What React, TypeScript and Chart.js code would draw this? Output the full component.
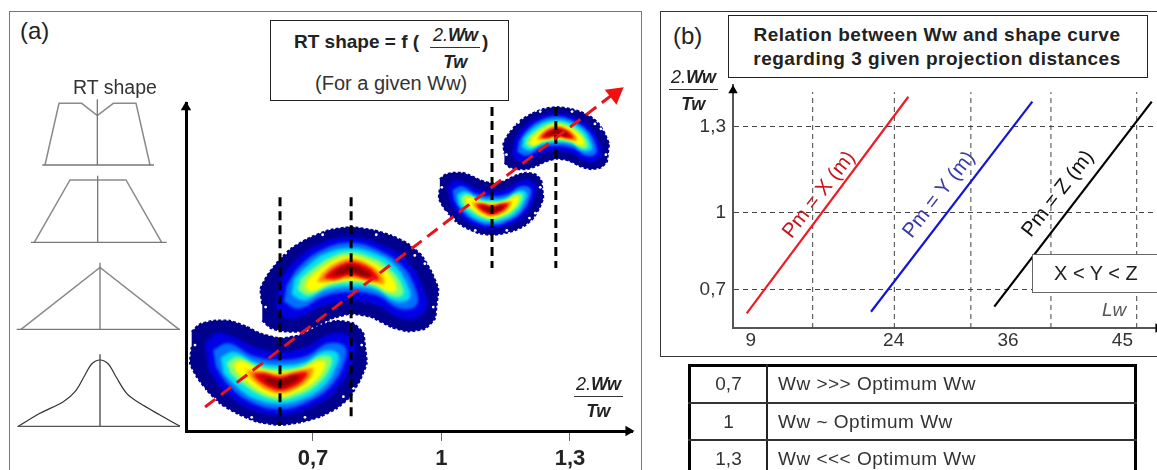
import React, { useEffect, useRef } from "react";
import { Chart, registerables } from "chart.js";

Chart.register(...registerables);

const FONT = '"Liberation Sans", Arial, sans-serif';

/* ---------- panel (a): axis ---------- */
const aTicks = [0.7, 1, 1.3];
const aTickLabels = ["0,7", "1", "1,3"];
const diagonalTrend = [
  { x: 0.448, y: 0.456 },
  { x: 1.398, y: 1.1845 },
];
const shapeMarkers = [
  { x: 0.623, top: 0.946, bottom: 0.414 },
  { x: 0.789, top: 0.946, bottom: 0.4257 },
  { x: 1.118, top: 1.1565, bottom: 0.7806 },
  { x: 1.267, top: 1.1565, bottom: 0.7806 },
];

/* ---------- panel (a): density contour levels of one RT footprint, as read from the big lower blob ---------- */
const levelOuter = [[35,395],[60,372],[100,362],[150,362],[200,380],[240,400],[300,415],[360,405],[420,375],[470,362],[520,370],[550,400],[555,440],[560,490],[540,540],[510,590],[470,625],[420,650],[370,665],[300,675],[230,665],[170,640],[120,610],[80,570],[50,530],[30,490],[35,440]];
const levelBlue = [[75,430],[110,400],[160,410],[220,440],[300,455],[380,440],[440,405],[490,400],[525,435],[515,490],[470,570],[400,618],[300,645],[200,622],[130,570],[85,510]];
const levelAzure = [[100,450],[145,430],[220,468],[300,480],[380,468],[445,430],[495,440],[492,490],[455,555],[390,602],[300,628],[210,605],[145,555],[108,500]];
const levelCyan = [[122,472],[162,455],[225,485],[300,495],[375,485],[432,452],[475,462],[462,515],[425,565],[370,597],[300,612],[225,597],[170,560],[130,520]];
const levelGreen = [[140,488],[172,470],[230,497],[300,507],[370,497],[420,468],[455,472],[445,515],[405,560],[360,585],[300,600],[240,585],[185,550],[150,520]];
const levelYellow = [[160,492],[185,482],[235,505],[300,515],[365,505],[410,482],[435,485],[425,520],[390,555],[345,578],[300,590],[250,578],[200,545],[170,520]];
const levelOrange = [[198,510],[232,512],[300,522],[365,510],[398,505],[392,530],[355,562],[300,580],[250,565],[212,535]];
const levelRed = [[218,522],[250,518],[300,530],[350,518],[382,518],[365,545],[335,563],[300,572],[262,560],[232,540]];
const levelDark = [[240,532],[270,532],[300,540],[335,528],[360,530],[340,548],[300,562],[268,552]];
const levelHoles = [[215,652],[375,652],[105,597],[490,590],[520,565],[70,565],[45,435],[545,435]];

const levels = [levelOuter, levelBlue, levelAzure, levelCyan, levelGreen, levelYellow, levelOrange, levelRed, levelDark];
const levelColors = ["#00008f", "#0000e6", "#0070ff", "#00e0f0", "#80ff70", "#ffff00", "#ff9000", "#f00000", "#8c0000"];

/* where each footprint sits on the plot: centre and half extents in axis units */
const blobs = [
  { cx: 0.789, cy: 0.757, hw: 0.2066, hh: 0.1214, flip: true, soft: 1.7 },
  { cx: 0.623, cy: 0.533, hw: 0.2055, hh: 0.1214, flip: false, soft: 1.7 },
  { cx: 1.27, cy: 1.0855, hw: 0.1226, hh: 0.0724, flip: true, soft: 1 },
  { cx: 1.118, cy: 0.9286, hw: 0.1214, hh: 0.0724, flip: false, soft: 1 },
];

/* ---------- RT shape sketches ---------- */
const shapeColor = "#8a8a8a";
const rtOutlines = [
  [[135,798],[177,983],[245,983],[292,946],[340,983],[408,983],[450,798]],
  [[103,566],[210,753],[378,753],[485,566]],
  [[63,305],[300,491],[537,305]],
];
const rtBellCurve = [[55,14],[120,53],[190,88],[225,118],[255,168],[275,201],[300,213],[325,201],[345,168],[380,113],[420,83],[480,48],[540,14]];
const rtBaselines = [[[127,798],[462,798]],[[93,566],[500,566]],[[50,305],[540,305]],[[52,14],[540,14]]];
const rtCentres = [[[292,798],[292,995]],[[293,566],[293,766]],[[300,305],[300,505]],[[300,14],[300,230]]];

/* ---------- panel (b) ---------- */
const bYTicks = [0.7, 0.983, 1.3];
const bYTickLabels = ["0,7", "1", "1,3"];
const bXTicks = [9, 24, 36, 48];
const bXTickLabels = ["9", "24", "36", "45"];
const bVerticalGuides = [15.5, 24.07, 32.1, 40.5, 49.5];
const lineX = [{ x: 8.58, y: 0.614 }, { x: 25.54, y: 1.41 }];
const lineY = [{ x: 21.62, y: 0.62 }, { x: 38.55, y: 1.392 }];
const lineZ = [{ x: 34.56, y: 0.639 }, { x: 51.08, y: 1.392 }];

const tableRows = [
  ["0,7", "Ww >>> Optimum Ww"],
  ["1", "Ww ~ Optimum Ww"],
  ["1,3", "Ww <<< Optimum Ww"],
];

const contourPlugin = {
  id: "contourPlugin",
  beforeDatasetDraw(chart: any, args: any) {
    const ds = chart.data.datasets[args.index];
    if (!ds.contourFill) return;
    const ctx = chart.ctx;
    ctx.save();
    if (ds.softness) ctx.filter = `blur(${ds.softness}px)`;
    ctx.fillStyle = ds.contourFill;
    ctx.beginPath();
    args.meta.dataset.path(ctx);
    ctx.closePath();
    ctx.fill();
    ctx.restore();
  },
};

const place = (b: any, p: number[]) => ({
  x: b.cx + ((p[0] - 300) / 264) * b.hw,
  y: b.cy + (((522 - p[1]) / 156) * b.hh) * (b.flip ? -1 : 1),
});

const asXY = (pts: number[][]) => pts.map((p) => ({ x: p[0], y: p[1] }));
const base = { pointRadius: 0, showLine: true, clip: false as any };
const noOverflow = (s: any) => {
  s.paddingTop = 0;
  s.paddingBottom = 0;
  s.paddingLeft = 0;
  s.paddingRight = 0;
};

function buildChartA(canvas: HTMLCanvasElement) {
  const datasets: any[] = [];
  blobs.forEach((b, i) => {
    levels.forEach((lv, j) => {
      datasets.push({
        ...base,
        data: lv.map((p) => place(b, p)),
        contourFill: levelColors[j],
        softness: j === 0 ? 0 : b.soft,
        tension: j === 0 ? 0.15 : 0.4,
        borderWidth: j === 0 ? 2 : 0,
        borderColor: levelColors[0],
        borderDash: [3, 2],
        order: 1000 - i * 20 - j,
      });
    });
    datasets.push({
      data: levelHoles.map((p) => place(b, p)),
      showLine: false,
      pointRadius: 1.4,
      pointBorderWidth: 0,
      pointBackgroundColor: "#fff",
      clip: false,
      order: 1000 - i * 20 - 10,
    });
  });
  shapeMarkers.forEach((m) =>
    datasets.push({
      ...base,
      data: [{ x: m.x, y: m.top }, { x: m.x, y: m.bottom }],
      borderColor: "#000",
      borderWidth: 3,
      borderDash: [9, 5],
      order: 3,
    })
  );
  datasets.push({
    ...base,
    data: diagonalTrend,
    borderColor: "#e8141c",
    borderWidth: 3,
    borderDash: [13, 7],
    order: 2,
  });
  const arrow = (x: number, y: number, rot: number, r: number, c: string) => ({
    data: [{ x, y }],
    showLine: false,
    pointStyle: "triangle",
    pointRotation: rot,
    pointRadius: r,
    pointBorderWidth: 0,
    pointBackgroundColor: c,
    clip: false,
    order: 1,
  });
  datasets.push(arrow(1.405, 1.187, 52, 11, "#f01010"));
  datasets.push(arrow(0.4035, 1.156, 0, 6, "#000"));
  datasets.push(arrow(1.4365, 0.4, 90, 6, "#000"));

  return new Chart(canvas, {
    type: "scatter",
    data: { datasets },
    plugins: [contourPlugin as any],
    options: {
      responsive: false,
      animation: false,
      layout: { autoPadding: false, padding: { left: 6, right: 8, top: 23, bottom: 0 } },
      plugins: { legend: { display: false }, tooltip: { enabled: false } },
      scales: {
        x: {
          min: 0.4035,
          max: 1.4448,
          afterBuildTicks: (s: any) => {
            s.ticks = aTicks.map((value) => ({ value }));
          },
          afterFit: (s: any) => {
            s.height = 39;
            noOverflow(s);
          },
          grid: { drawOnChartArea: false, drawTicks: true, tickLength: 10, color: "#666", lineWidth: 1 },
          border: { color: "#000", width: 3 },
          ticks: {
            autoSkip: false,
            maxRotation: 0,
            padding: 5,
            color: "#222",
            font: { family: FONT, size: 22, weight: "bold" },
            callback: (v: any) => aTickLabels[aTicks.indexOf(Number(v))] ?? "",
          },
        },
        y: {
          min: 0.4,
          max: 1.1658,
          afterFit: (s: any) => {
            s.width = 0;
            noOverflow(s);
          },
          grid: { display: false },
          border: { color: "#000", width: 3 },
          ticks: { display: false },
        },
      },
    } as any,
  });
}

function buildChartRT(canvas: HTMLCanvasElement) {
  const datasets: any[] = [];
  rtBaselines.forEach((d, i) =>
    datasets.push({ ...base, data: asXY(d), borderColor: i === 3 ? "#555" : "#777", borderWidth: 1.3 })
  );
  rtCentres.forEach((d, i) =>
    datasets.push({ ...base, data: asXY(d), borderColor: i === 3 ? "#444" : "#777", borderWidth: 1.3 })
  );
  rtOutlines.forEach((d) =>
    datasets.push({ ...base, data: asXY(d), borderColor: shapeColor, borderWidth: 1.5 })
  );
  datasets.push({ ...base, data: asXY(rtBellCurve), borderColor: "#333", borderWidth: 1.2, tension: 0.35 });
  return new Chart(canvas, {
    type: "scatter",
    data: { datasets },
    options: {
      responsive: false,
      animation: false,
      layout: { autoPadding: false },
      plugins: { legend: { display: false }, tooltip: { enabled: false } },
      scales: {
        x: { display: false, min: 30, max: 558 },
        y: { display: false, min: 0, max: 1023 },
      },
    } as any,
  });
}

function buildChartB(canvas: HTMLCanvasElement) {
  const datasets: any[] = [];
  [
    { d: lineX, c: "#ee1c25" },
    { d: lineY, c: "#1414d8" },
    { d: lineZ, c: "#000" },
  ].forEach((l) =>
    datasets.push({ ...base, data: l.d, borderColor: l.c, borderWidth: 2.2, order: 1 })
  );
  bVerticalGuides.forEach((x) =>
    datasets.push({
      ...base,
      data: [{ x, y: 0.5604 }, { x, y: 1.427 }],
      borderColor: "#444",
      borderWidth: 1,
      borderDash: [5, 4],
      order: 2,
    })
  );
  datasets.push({
    data: [{ x: 7.14, y: 1.433 }],
    showLine: false,
    pointStyle: "triangle",
    pointRadius: 5.5,
    pointBorderWidth: 0,
    pointBackgroundColor: "#000",
    clip: false,
    order: 0,
  });
  datasets.push({
    data: [{ x: 51.75, y: 0.5604 }],
    showLine: false,
    pointStyle: "triangle",
    pointRotation: 90,
    pointRadius: 5.5,
    pointBorderWidth: 0,
    pointBackgroundColor: "#000",
    clip: false,
    order: 0,
  });
  return new Chart(canvas, {
    type: "scatter",
    data: { datasets },
    options: {
      responsive: false,
      animation: false,
      layout: { autoPadding: false, padding: { left: 0, right: 0, top: 5, bottom: 0 } },
      plugins: { legend: { display: false }, tooltip: { enabled: false } },
      scales: {
        x: {
          min: 7.14,
          max: 51.63,
          afterBuildTicks: (s: any) => {
            s.ticks = bXTicks.map((value) => ({ value }));
          },
          afterFit: (s: any) => {
            s.height = 24;
            noOverflow(s);
          },
          grid: { display: false, drawTicks: false },
          border: { color: "#555", width: 2 },
          ticks: {
            autoSkip: false,
            maxRotation: 0,
            padding: 1,
            color: "#333",
            font: { family: FONT, size: 19 },
            callback: (v: any) => bXTickLabels[bXTicks.indexOf(Number(v))] ?? "",
          },
        },
        y: {
          min: 0.5604,
          max: 1.4531,
          afterBuildTicks: (s: any) => {
            s.ticks = bYTicks.map((value) => ({ value }));
          },
          afterFit: (s: any) => {
            s.width = 53;
            noOverflow(s);
          },
          grid: { drawTicks: false, color: "#444", lineWidth: 1 },
          border: { color: "#555", width: 2, dash: [5, 4] },
          ticks: {
            autoSkip: false,
            padding: 7,
            color: "#333",
            font: { family: FONT, size: 19 },
            callback: (v: any) => bYTickLabels[bYTicks.indexOf(Number(v))] ?? "",
          },
        },
      },
    } as any,
  });
}

const abs = (left: number, top: number, extra: React.CSSProperties = {}): React.CSSProperties => ({
  position: "absolute",
  left,
  top,
  fontFamily: FONT,
  whiteSpace: "nowrap",
  ...extra,
});

function Frac({ cx, lineY: ly, w, size = 18 }: { cx: number; lineY: number; w: number; size?: number }) {
  const t = { color: "#222", fontSize: size, lineHeight: "18px", transform: "translateX(-50%)" };
  return (
    <>
      <div style={abs(cx, ly - 21, t)}>
        <span style={{ fontStyle: "italic" }}>2.</span>
        <b style={{ fontStyle: "italic", letterSpacing: -1 }}>Ww</b>
      </div>
      <div style={abs(cx - w / 2, ly, { width: w, height: 1, background: "#333" })} />
      <div style={abs(cx, ly + 6, t)}>
        <b style={{ fontStyle: "italic", letterSpacing: -0.5 }}>Tw</b>
      </div>
    </>
  );
}

function Rot({ cx, cy, color, children }: { cx: number; cy: number; color: string; children: string }) {
  return (
    <div
      style={abs(cx, cy, {
        color,
        fontSize: 20.5,
        lineHeight: "20px",
        transform: "translate(-50%,-50%) rotate(-52deg)",
      })}
    >
      {children}
    </div>
  );
}

export default function App() {
  const a = useRef<HTMLCanvasElement>(null);
  const rt = useRef<HTMLCanvasElement>(null);
  const b = useRef<HTMLCanvasElement>(null);
  useEffect(() => {
    const c1 = buildChartA(a.current!);
    const c2 = buildChartRT(rt.current!);
    const c3 = buildChartB(b.current!);
    return () => {
      c1.destroy();
      c2.destroy();
      c3.destroy();
    };
  }, []);

  const rowTops = [364, 402, 439];
  return (
    <div style={{ position: "fixed", left: 0, top: 0, width: 1157, height: 470, overflow: "hidden", background: "#fff" }}>
      {/* panel frames */}
      <div style={abs(9, 11, { width: 633, height: 480, border: "1.5px solid #777", boxSizing: "border-box" })} />
      <div style={abs(660, 11, { width: 520, height: 346, border: "1px solid #333", boxSizing: "border-box" })} />

      <canvas ref={rt} width={176} height={341} style={{ position: "absolute", left: 10, top: 90 }} />
      <canvas ref={a} width={460} height={390} style={{ position: "absolute", left: 180, top: 80 }} />
      <canvas ref={b} width={477} height={272} style={{ position: "absolute", left: 680, top: 80 }} />

      <div style={abs(20, 17, { fontSize: 24, color: "#222" })}>(a)</div>
      <div style={abs(673, 22, { fontSize: 24, color: "#222" })}>(b)</div>
      <div style={abs(73, 76, { fontSize: 19.5, color: "#333" })}>RT shape</div>

      {/* formula box */}
      <div style={abs(270, 20, { width: 239, height: 81, border: "1px solid #222", boxSizing: "border-box", background: "#fff" })} />
      <div style={abs(294, 31, { fontSize: 19, fontWeight: "bold", color: "#222" })}>RT shape = f (</div>
      <Frac cx={455} lineY={47} w={50} />
      <div style={abs(482, 31, { fontSize: 19, fontWeight: "bold", color: "#222" })}>)</div>
      <div style={abs(315, 72, { fontSize: 20, color: "#333" })}>(For a given Ww)</div>

      <Frac cx={598} lineY={396} w={49} />
      <Frac cx={693} lineY={89} w={49} />

      {/* title of (b) */}
      <div style={abs(728, 15, { width: 420, height: 63, border: "1px solid #222", boxSizing: "border-box", background: "#fff" })} />
      <div style={abs(728, 23, { width: 418, textAlign: "center", fontSize: 19, letterSpacing: 0.5, lineHeight: "24px", fontWeight: "bold", color: "#222" })}>
        Relation between Ww and shape curve
        <br />
        regarding 3 given projection distances
      </div>

      <Rot cx={818} cy={194} color="#c8141c">Pm = X (m)</Rot>
      <Rot cx={938} cy={194} color="#3a3aa8">Pm = Y (m)</Rot>
      <Rot cx={1057} cy={193} color="#111">Pm = Z (m)</Rot>

      <div style={abs(1032, 254, { width: 140, height: 39, border: "1px solid #666", boxSizing: "border-box", background: "#fff" })} />
      <div style={abs(1054, 262, { fontSize: 20, color: "#222" })}>X &lt; Y &lt; Z</div>
      <div style={abs(1102, 299, { fontSize: 19, fontStyle: "italic", color: "#555" })}>Lw</div>

      {/* table */}
      <div style={abs(688, 364, { width: 449, height: 116, border: "3px solid #000", boxSizing: "border-box" })} />
      <div style={abs(766, 364, { width: 1.5, height: 110, background: "#222" })} />
      {tableRows.map((r, i) => (
        <React.Fragment key={r[0]}>
          {i > 0 && <div style={abs(688, rowTops[i], { width: 449, height: 1.5, background: "#333" })} />}
          <div style={abs(691, rowTops[i] + 9, { width: 75, textAlign: "center", fontSize: 19, color: "#333" })}>{r[0]}</div>
          <div style={abs(778, rowTops[i] + 9, { fontSize: 19, letterSpacing: 0.5, color: "#333" })}>{r[1]}</div>
        </React.Fragment>
      ))}
    </div>
  );
}
